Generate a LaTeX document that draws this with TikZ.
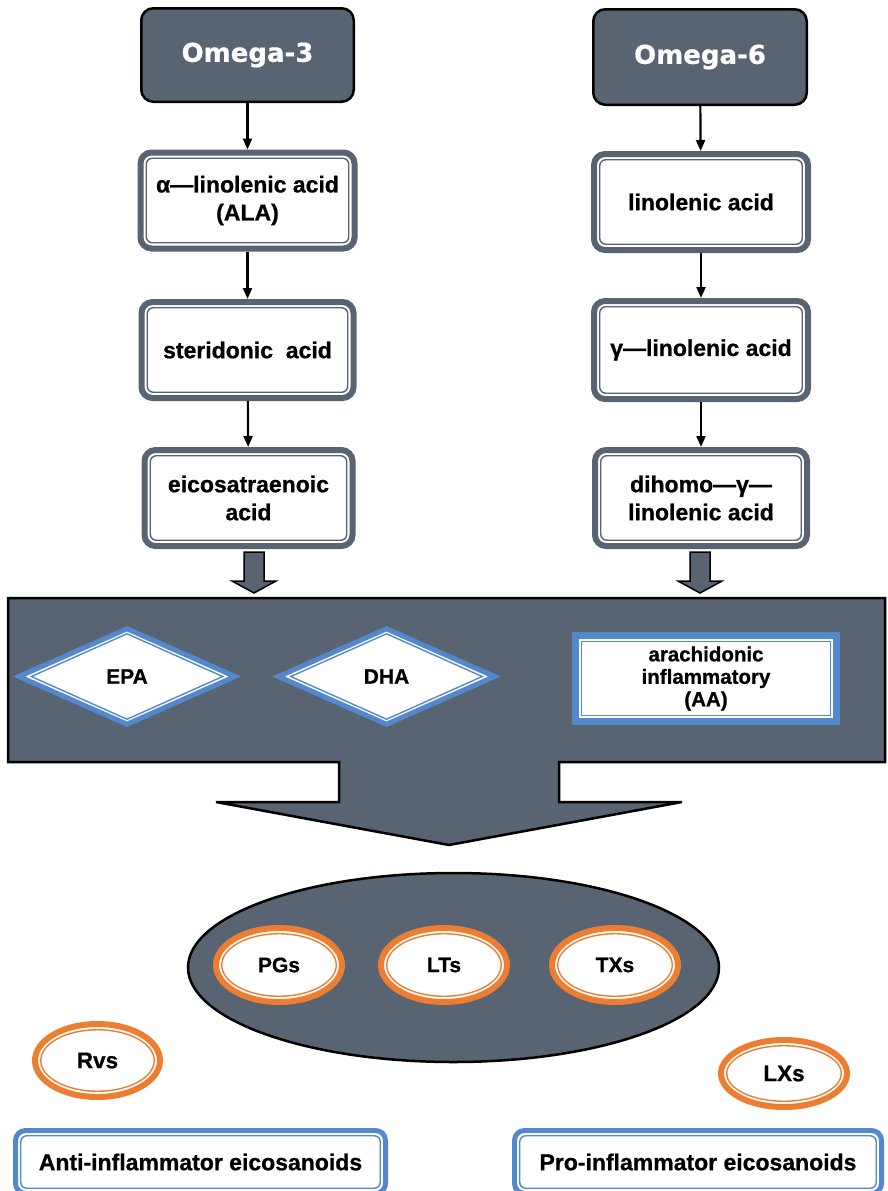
\documentclass[tikz,border=0pt]{standalone}
\usepackage{fontspec}
\setmainfont{Liberation Sans}[BoldFeatures={FakeBold=0.8}]
\newfontfamily\headfont{DejaVu Sans}[BoldFeatures={FakeBold=0.6}]
\usetikzlibrary{shapes.geometric,arrows.meta}

\definecolor{slate}{RGB}{88,100,114}
\definecolor{lineblue}{RGB}{84,136,204}
\definecolor{ringorange}{RGB}{237,125,49}

\tikzset{
  txt/.style={font=\bfseries\fontsize{23}{28}\selectfont, align=center, text=black, inner sep=0pt},
  headbox/.style={rectangle, draw=black, line width=2.5pt, fill=slate, rounded corners=12pt,
    font=\headfont\bfseries\fontsize{26}{30}\selectfont, text=white, inner sep=0pt},
  greybox/.style={txt, rectangle, draw=slate, fill=white, rounded corners=11pt},
  greyin/.style={rectangle, draw=slate, line width=1.4pt, rounded corners=6pt, inner sep=0pt},
  bluebox/.style={txt, rectangle, draw=lineblue, fill=white, font=\bfseries\fontsize{20.5}{22.5}\selectfont},
  bluein/.style={rectangle, draw=lineblue, line width=1.4pt, inner sep=0pt},
  roundblue/.style={txt, rectangle, draw=lineblue, fill=white, rounded corners=10pt,
    font=\bfseries\fontsize{23}{27}\selectfont},
  roundbluein/.style={rectangle, draw=lineblue, line width=1.4pt, rounded corners=6pt, inner sep=0pt},
  ring/.style={txt, ellipse, draw=ringorange, fill=white, font=\bfseries\fontsize{21}{25}\selectfont},
  sidering/.style={ring, font=\bfseries\fontsize{22.5}{25}\selectfont},
  ringin/.style={ellipse, draw=ringorange, line width=1.4pt, inner sep=0pt},
  gem/.style={txt, diamond, draw=lineblue, fill=white, line width=5pt, font=\bfseries\fontsize{21}{25}\selectfont},
  gemin/.style={diamond, draw=lineblue, line width=1.4pt, inner sep=0pt},
  conn/.style={draw=black, line width=2.2pt, -{Triangle[length=11pt,width=9pt]}},
  blk/.style={draw=black, line width=1.5pt, fill=slate, line join=miter},
  panel/.style={draw=black, line width=2.5pt, fill=slate, line join=miter},
}

% outer style, inner style, name, centre, outer width, outer height, band, text
\newcommand\pairnode[8]{%
  \node[#1, line width=#7pt, minimum width={(#5-#7)*1pt}, minimum height={(#6-#7)*1pt}] (#3) at #4 {#8};
  \node[#2, minimum width={(#5-2*#7-5.5)*1pt}, minimum height={(#6-2*#7-5.5)*1pt}] (#3-in) at #4 {};
}

\begin{document}
\begin{tikzpicture}[x=1pt,y=-1pt]
\useasboundingbox (0,0) rectangle (887,1191);
\clip (0,0) rectangle (887,1191);
\fill[white] (0,0) rectangle (887,1191);

% sources
\node[headbox, minimum width=212.5pt, minimum height=93.5pt] (o3) at (247.5,55) {Omega-3};
\node[headbox, minimum width=213.5pt, minimum height=95.5pt] (o6) at (700,57) {Omega-6};

% omega-3 chain
\pairnode{greybox}{greyin}{ala}{(247.5,200.5)}{220}{102}{6}{α—linolenic acid\\(ALA)}
\pairnode{greybox}{greyin}{ster}{(247.5,350)}{218}{102}{6}{steridonic\ \ acid}
\pairnode{greybox}{greyin}{eico}{(248.5,498)}{214}{102}{6}{eicosatraenoic\\acid}

% omega-6 chain
\pairnode{greybox}{greyin}{lino}{(701,202)}{220}{102}{6}{linolenic acid}
\pairnode{greybox}{greyin}{gla}{(701,350)}{220}{104}{6}{γ—linolenic acid}
\pairnode{greybox}{greyin}{dgla}{(701,498)}{218}{102}{6}{dihomo—γ—\\linolenic acid}

\draw[conn] (o3) -- (ala);
\draw[conn] (ala) -- (ster);
\draw[conn] (ster) -- (eico);
\draw[conn] (o6) -- (lino);
\draw[conn] (lino) -- (gla);
\draw[conn] (gla) -- (dgla);

% small block arrows into the panel
\draw[blk] (244,552) -- (264,552) -- (264,581) -- (276,581) -- (254,593) -- (232,581) -- (244,581) -- cycle;
\draw[blk] (690,552) -- (710,552) -- (710,581) -- (722,581) -- (700,593) -- (678,581) -- (690,581) -- cycle;

% panel merged with the big downward arrow
\draw[panel] (8,598) -- (885,598) -- (885,762) -- (559,762) -- (559,802) -- (682,802)
  -- (449,845) -- (216,802) -- (339,802) -- (339,762) -- (8,762) -- cycle;

% EPA / DHA / AA
\node[gem, minimum width=218pt, minimum height=97.5pt] (epa) at (127,676.5) {EPA};
\node[gemin, minimum width=192pt, minimum height=86pt] (epa-in) at (127,676.5) {};
\node[gem, minimum width=218pt, minimum height=97.5pt] (dha) at (386.5,676.5) {DHA};
\node[gemin, minimum width=192pt, minimum height=86pt] (dha-in) at (386.5,676.5) {};
\pairnode{bluebox}{bluein}{aa}{(706,678.5)}{268}{93}{7}{arachidonic\\inflammatory\\(AA)}

% eicosanoid cloud
\node[ellipse, draw=black, line width=2.5pt, fill=slate, minimum width=531pt, minimum height=189pt] (hub) at (453.5,967.5) {};
\pairnode{ring}{ringin}{pgs}{(279,965)}{132}{80}{6}{PGs}
\pairnode{ring}{ringin}{lts}{(444,965)}{132}{80}{6}{LTs}
\pairnode{ring}{ringin}{txs}{(615,965)}{132}{80}{6}{TXs}

\pairnode{sidering}{ringin}{rvs}{(97.5,1060.5)}{131}{79}{6}{Rvs}
\pairnode{sidering}{ringin}{lxs}{(784,1073.5)}{132}{73}{6}{LXs}

% outcome boxes
\pairnode{roundblue}{roundbluein}{anti}{(200.5,1162)}{375}{68}{5}{Anti-inflammator eicosanoids}
\pairnode{roundblue}{roundbluein}{pro}{(698,1162)}{372}{68}{5}{Pro-inflammator eicosanoids}
\end{tikzpicture}
\end{document}
